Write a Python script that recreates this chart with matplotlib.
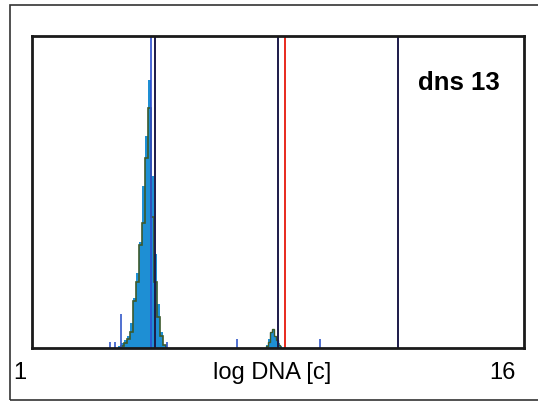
import matplotlib.pyplot as plt
from matplotlib.patches import Rectangle

# histogram of the main (2c) peak, bin edges in c
peak1_edges = [1.623, 1.651, 1.680, 1.708, 1.737, 1.767, 1.797, 1.828, 1.859,
               1.890, 1.923, 1.955, 1.989, 2.023, 2.057, 2.092, 2.128]
peak1_fill = [0.5, 1.5, 2.5, 4, 8, 16, 24, 34, 52, 68, 86, 55, 30, 14, 5, 1]
peak1_outline = [0, 0.5, 1.5, 3, 5, 15, 21, 33, 40, 61, 77, 42, 21, 10, 4, 1]

# small 4c peak
peak2_edges = [3.738, 3.78, 3.824, 3.866, 3.91, 3.955, 4.0, 4.045, 4.09]
peak2_fill = [1, 3, 5, 6, 4, 3, 1.5, 0.5]
peak2_outline = [0.5, 2, 5, 6, 4, 2.5, 1, 0]

# single-event spikes
spike_x = [1.552, 1.596, 1.651, 2.14, 3.175, 5.07]
spike_h = [2, 2, 11, 2, 3, 3]

# marker lines
dark_lines = [2.0, 4.0, 7.85]
peak_line = 1.955
red_line = 4.16

fig = plt.figure(figsize=(5.38, 4.09), dpi=100)
ax = fig.add_axes([32 / 538, 1 - 348 / 409, 492 / 538, 312 / 409])

ax.set_xscale('log', base=2)
ax.set_xlim(1, 16)
ax.set_ylim(0, 100)

ax.stairs(peak1_fill, peak1_edges, fill=True, color='#1e8fd4')
ax.stairs(peak1_outline, peak1_edges, color='#3c5a2c', linewidth=1.2)
ax.stairs(peak2_fill, peak2_edges, fill=True, color='#1e8fd4')
ax.stairs(peak2_outline, peak2_edges, color='#3c5a2c', linewidth=1.0)
ax.vlines(spike_x, 0, spike_h, color='#3258c8', linewidth=1.2)

for x in dark_lines:
    ax.axvline(x, color='#1c1a4a', linewidth=1.4)
ax.axvline(peak_line, color='#2f4fd0', linewidth=1.2)
ax.axvline(red_line, color='#e82a1e', linewidth=1.4)

ax.set_xticks([])
ax.set_yticks([])
ax.minorticks_off()
for s in ax.spines.values():
    s.set_linewidth(2)
    s.set_color('#1a1a1a')

ax.text(0.868, 0.85, 'dns 13', transform=ax.transAxes, ha='center', va='center',
        fontsize=18.5, fontweight='bold', family='Liberation Sans')

fig.text(20 / 538, 1 - 373 / 409, '1', ha='center', va='center', fontsize=17, family='Liberation Sans')
fig.text(272 / 538, 1 - 373 / 409, 'log DNA [c]', ha='center', va='center', fontsize=17, family='Liberation Sans')
fig.text(516 / 538, 1 - 373 / 409, '16', ha='right', va='center', fontsize=17, family='Liberation Sans')

# outer frame
fig.add_artist(Rectangle((10 / 538, 1 - 400 / 409), 540 / 538, 395 / 409,
                         transform=fig.transFigure, fill=False, edgecolor='#333333', linewidth=1.2))

plt.savefig('out.png', dpi=100)
